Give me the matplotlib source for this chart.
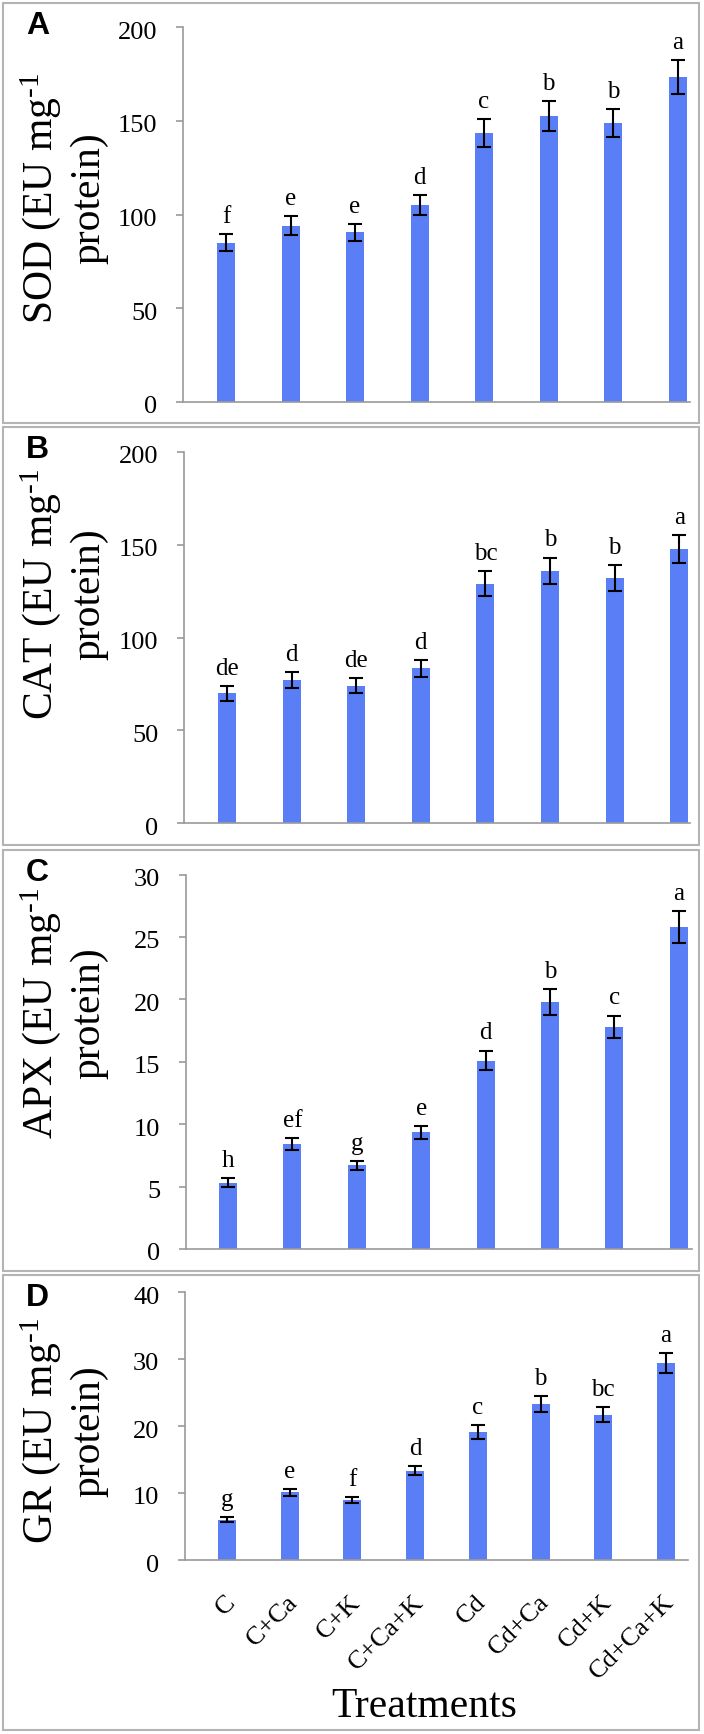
import matplotlib
matplotlib.use("Agg")
import matplotlib.pyplot as plt
from matplotlib.patches import Rectangle
from matplotlib.transforms import ScaledTranslation

plt.rcParams['mathtext.fontset'] = 'custom'
plt.rcParams['mathtext.rm'] = 'Liberation Serif'
plt.rcParams['mathtext.it'] = 'Liberation Serif:italic'
plt.rcParams['mathtext.bf'] = 'Liberation Serif:bold'

# ---------------- data ----------------
treatments = ["C", "C+Ca", "C+K", "C+Ca+K", "Cd", "Cd+Ca", "Cd+K", "Cd+Ca+K"]

sod = [85, 94, 90.5, 105, 143.5, 152.5, 149, 173.5]
sod_err = [4.5, 5, 4.5, 5.5, 7.5, 8, 7.5, 9]
sod_letters = ["f", "e", "e", "d", "c", "b", "b", "a"]

cat = [70, 77, 74, 83.5, 129, 136, 132, 147.5]
cat_err = [4, 4.2, 4, 4.5, 6.8, 7, 6.8, 7.4]
cat_letters = ["de", "d", "de", "d", "bc", "b", "b", "a"]

apx = [5.3, 8.4, 6.7, 9.35, 15.1, 19.8, 17.8, 25.8]
apx_err = [0.35, 0.48, 0.37, 0.5, 0.8, 1.04, 0.9, 1.28]
apx_letters = ["h", "ef", "g", "e", "d", "b", "c", "a"]

gr = [6.0, 10.1, 9.0, 13.35, 19.1, 23.3, 21.7, 29.4]
gr_err = [0.4, 0.55, 0.45, 0.7, 1.05, 1.2, 1.15, 1.5]
gr_letters = ["g", "e", "f", "d", "c", "b", "bc", "a"]

panel_ids = ["A", "B", "C", "D"]
ylabels = ["SOD (EU mg$^{\\text{-}1}$\nprotein)",
           "CAT (EU mg$^{\\text{-}1}$\nprotein)",
           "APX (EU mg$^{\\text{-}1}$\nprotein)",
           "GR (EU mg$^{\\text{-}1}$\nprotein)"]
yticks = [[0, 50, 100, 150, 200], [0, 50, 100, 150, 200],
          [0, 5, 10, 15, 20, 25, 30], [0, 10, 20, 30, 40]]
values = [sod, cat, apx, gr]
errors = [sod_err, cat_err, apx_err, gr_err]
letters = [sod_letters, cat_letters, apx_letters, gr_letters]

# ---------------- layout (pixels) ----------------
W, H = 704, 1734
DPI = 100
fig = plt.figure(figsize=(W / DPI, H / DPI), dpi=DPI)

# spine_left, spine_right, y_top, y_bottom, first_center, spacing
axes_px = [
    (183, 690, 27.3, 401.7, 226, 64.5),
    (184, 690, 451.7, 823.3, 227, 64.6),
    (186, 692, 874.5, 1249, 228, 64.4),
    (185, 688, 1292, 1560, 227, 62.7),
]
boxes_px = [(3, 3, 699, 423), (3, 427, 699, 845), (3, 850, 699, 1271), (3, 1275, 699, 1730)]
ylabel_pos = [(63, 198), (63, 594), (63, 1013), (63, 1431)]

serif = "Liberation Serif"
bar_color = "#5A7EF5"
spine_color = "#9a9a9a"

for i in range(4):
    L, R, T, B, c0, sp = axes_px[i]
    ax = fig.add_axes([L / W, 1 - B / H, (R - L) / W, (B - T) / H])
    x = list(range(len(treatments)))
    ax.bar(x, values[i], width=18 / sp, color=bar_color, edgecolor="none",
           yerr=errors[i], error_kw=dict(ecolor="black", elinewidth=1.5,
                                         capsize=5, capthick=1.5))
    ax.set_xlim((L - c0) / sp, (R - c0) / sp)
    ax.set_ylim(yticks[i][0], yticks[i][-1])
    ax.set_yticks(yticks[i])
    ax.set_yticklabels([str(t) for t in yticks[i]], fontsize=19, family=serif)
    for s in ["top", "right"]:
        ax.spines[s].set_visible(False)
    for s in ["left", "bottom"]:
        ax.spines[s].set_color(spine_color)
        ax.spines[s].set_linewidth(1.2)
    ax.tick_params(axis="y", length=5, width=1.2, color=spine_color, pad=13.5,
                   direction="out")
    off_y = ScaledTranslation(0, -3 / DPI, fig.dpi_scale_trans)
    for lab in ax.get_yticklabels():
        lab.set_transform(lab.get_transform() + off_y)

    ax.set_xticks(x)
    if i == 3:
        ax.set_xticklabels(treatments, rotation=45, ha="right", va="center",
                           rotation_mode="anchor", fontsize=19, family=serif)
        ax.tick_params(axis="x", length=0, pad=28)
        off_x = ScaledTranslation(5 / DPI, 0, fig.dpi_scale_trans)
        for lab in ax.get_xticklabels():
            lab.set_transform(lab.get_transform() + off_x)
    else:
        ax.set_xticklabels([])
        ax.tick_params(axis="x", length=0)

    for xi, v, e, s in zip(x, values[i], errors[i], letters[i]):
        ax.annotate(s, (xi, v + e), xytext=(0, 8), textcoords="offset points",
                    ha="center", va="baseline", fontsize=18, family=serif)

    # y label
    fig.text(ylabel_pos[i][0] / W, 1 - ylabel_pos[i][1] / H, ylabels[i],
             rotation=90, ha="center", va="center", fontsize=30,
             family=serif, linespacing=1.25)

    # panel box
    bx0, by0, bx1, by1 = boxes_px[i]
    fig.add_artist(Rectangle((bx0 / W, 1 - by1 / H), (bx1 - bx0) / W, (by1 - by0) / H,
                             transform=fig.transFigure, fill=False,
                             edgecolor="#b4b4b4", linewidth=1.5))
    # panel letter
    fig.text(37.5 / W, 1 - (by0 + 31) / H, panel_ids[i], ha="center", va="baseline",
             fontsize=23, fontweight="bold", family="Liberation Sans")

fig.text(424 / W, 1 - 1717 / H, "Treatments", ha="center", va="baseline",
         fontsize=30, family=serif)

fig.savefig("out.png", dpi=DPI)
